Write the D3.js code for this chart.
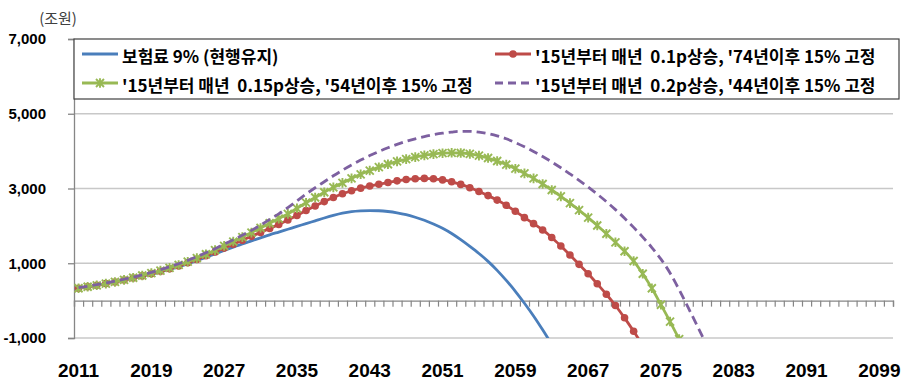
<!DOCTYPE html>
<html><head><meta charset="utf-8">
<script src="https://cdn.jsdelivr.net/npm/d3@7"></script>
<style>body{margin:0;background:#fff;} svg{display:block}</style>
</head><body><svg id="c" width="904" height="382"></svg>
<script>
// ---- data ----
const years = [2011,2012,2013,2014,2015,2016,2017,2018,2019,2020,2021,2022,2023,2024,2025,2026,2027,2028,2029,2030,
2031,2032,2033,2034,2035,2036,2037,2038,2039,2040,2041,2042,2043,2044,2045,2046,2047,2048,2049,2050,
2051,2052,2053,2054,2055,2056,2057,2058,2059,2060,2061,2062,2063,2064,2065,2066,2067,2068,2069,2070,
2071,2072,2073,2074,2075,2076,2077,2078,2079,2080,2081,2082,2083,2084,2085,2086,2087,2088,2089,2090,
2091,2092,2093,2094,2095,2096,2097,2098,2099,2100];
const xLabels = [2011,2019,2027,2035,2043,2051,2059,2067,2075,2083,2091,2099];
const yTicks = [-1000,1000,3000,5000,7000];
const unitLabel = "(조원)";
const seriesNames = ["보험료 9% (현행유지)","'15년부터 매년  0.1p상승, '74년이후 15% 고정","'15년부터 매년  0.15p상승, '54년이후 15% 고정","'15년부터 매년  0.2p상승, '44년이후 15% 고정"];
// 보험료 9% (2011~2063)
const base = [330,370,410,455,500,550,600,655,710,770,835,905,985,1070,1160,1250,1340,1430,1520,1600,
1680,1760,1835,1910,1985,2060,2135,2210,2280,2340,2380,2400,2410,2405,2385,2350,2300,2230,2150,2050,
1935,1795,1630,1450,1260,1050,810,540,250,-70,-410,-780,-1170];
// 0.1p (2011~2073)
const up01 = [330,370,410,455,500,552,605,662,722,785,853,928,1012,1103,1200,1300,1405,1510,1615,1720,
1825,1930,2040,2160,2280,2410,2530,2650,2760,2860,2940,3010,3065,3115,3160,3205,3240,3260,3270,3260,
3230,3180,3110,3020,2920,2810,2690,2550,2390,2220,2060,1890,1690,1460,1220,970,720,450,170,-130,
-460,-820,-1200];
// 0.15p (2011~2077)
const up015 = [330,370,410,455,500,555,612,672,736,804,876,955,1042,1137,1240,1350,1465,1580,1700,1820,
1945,2070,2195,2320,2470,2620,2760,2900,3030,3150,3270,3380,3480,3570,3650,3725,3785,3840,3885,3920,
3945,3955,3950,3925,3880,3815,3735,3640,3530,3405,3270,3120,2960,2790,2610,2420,2220,2010,1790,1560,
1320,1060,720,330,-110,-560,-1030];
// 0.2p (2011~2080)
const up02 = [345,385,428,473,520,572,628,690,757,828,905,988,1078,1175,1280,1390,1510,1630,1750,1880,
2020,2170,2320,2490,2670,2850,3020,3180,3340,3490,3630,3760,3880,3990,4090,4180,4260,4330,4390,4440,
4480,4510,4530,4530,4510,4470,4410,4330,4230,4115,3990,3855,3710,3555,3390,3220,3040,2850,2650,2435,
2205,1960,1700,1420,1110,740,290,-190,-680,-1180];

const seriesData = [base, up01, up015, up02];
const colors = ["#4A7EBB","#BE4B48","#98B954","#7D60A0"];

// ---- layout ----
const svg = d3.select("#c");
const L = 74, R = 893, T = 39, B = 338;
const x = d3.scaleBand().domain(years).range([L, R]).padding(0);
const xb = d3.scaleLinear().domain([0, years.length]).range([L, R]);
const y = d3.scaleLinear().domain([-1000, 7000]).range([B, T]);
const fmt = d3.formatLocale({decimal:".",thousands:",",grouping:[3],currency:["",""],minus:"-"}).format(",");
const cx = yr => x(yr) + x.bandwidth()/2;

// gridlines
svg.append("g").selectAll("line").data(yTicks.filter(v=>v!==7000)).join("line")
  .attr("x1", L).attr("x2", R).attr("y1", d=>y(d)).attr("y2", d=>y(d))
  .attr("stroke", "#c8c8c8").attr("stroke-width", 1.3);

// y axis
const ya = svg.append("g").attr("transform", `translate(${L},0)`)
  .call(d3.axisLeft(y).tickValues(yTicks).tickSize(6).tickPadding(22).tickFormat(fmt));
ya.select(".domain").attr("stroke", "#868686").attr("stroke-width", 1.3);
ya.selectAll(".tick line").attr("stroke", "#868686").attr("stroke-width", 1.3);
ya.selectAll("text").attr("font-family", "'Liberation Sans', Arial, sans-serif")
  .attr("font-weight", "bold").attr("font-size", 15).attr("fill", "#000");

// x axis (at zero) with category-boundary ticks
const xa = svg.append("g").attr("transform", `translate(0,${y(0)})`)
  .call(d3.axisBottom(xb).tickValues(d3.range(0, years.length + 1)).tickSize(6).tickFormat(""));
xa.select(".domain").attr("stroke", "#868686").attr("stroke-width", 1.3);
xa.selectAll(".tick line").attr("stroke", "#868686").attr("stroke-width", 1.2);

// x labels at bottom
const xl = svg.append("g").attr("transform", `translate(0,${B})`)
  .call(d3.axisBottom(x).tickValues(xLabels).tickSize(0).tickPadding(26));
xl.select(".domain").remove();
xl.selectAll("text").attr("font-family", "'Liberation Sans', Arial, sans-serif")
  .attr("font-weight", "bold").attr("font-size", 19).attr("fill", "#000");

// unit label
svg.append("text").attr("x", 58).attr("y", 17).attr("text-anchor", "middle")
  .attr("dominant-baseline", "central")
  .attr("font-family", "'Noto Sans CJK KR', sans-serif").attr("font-size", 15).attr("fill", "#404040")
  .text(unitLabel);

// clip
svg.append("clipPath").attr("id", "clip").append("rect")
  .attr("x", L).attr("y", T).attr("width", R - L).attr("height", B - T);

const plot = svg.append("g").attr("clip-path", "url(#clip)");
const line = d3.line().x((d,i)=>cx(years[i])).y(d=>y(d)).curve(d3.curveMonotoneX);

const starPath = s => `M${-s},${-s}L${s},${s}M${-s},${s}L${s},${-s}M0,${-s*1.2}L0,${s*1.2}`;

seriesData.forEach((vals, k) => {
  const p = plot.append("path").datum(vals).attr("d", line)
    .attr("fill", "none").attr("stroke", colors[k]).attr("stroke-width", 2.8)
    .attr("stroke-linejoin", "round");
  if (k === 3) p.attr("stroke-dasharray", "9,5");
  if (k === 1) {
    plot.append("g").selectAll("circle").data(vals).join("circle")
      .attr("cx", (d,i)=>cx(years[i])).attr("cy", d=>y(d)).attr("r", 3.8)
      .attr("fill", colors[k]);
  }
  if (k === 2) {
    plot.append("g").selectAll("path").data(vals).join("path")
      .attr("transform", (d,i)=>`translate(${cx(years[i])},${y(d)})`)
      .attr("d", starPath(4)).attr("stroke", colors[k]).attr("stroke-width", 1.9).attr("fill", "none");
  }
});

// legend
const lg = svg.append("g");
lg.append("rect").attr("x", L).attr("y", T).attr("width", 899 - L).attr("height", 99 - T)
  .attr("fill", "#fff").attr("stroke", "#404040").attr("stroke-width", 1.2);
const legPos = [[82, 122, 55], [495, 535, 55], [82, 122, 84], [495, 535, 84]];
seriesNames.forEach((name, k) => {
  const [lx, tx, ly] = legPos[k];
  const ln = lg.append("line").attr("x1", lx).attr("x2", lx + 36).attr("y1", ly - 1).attr("y2", ly - 1)
    .attr("stroke", colors[k]).attr("stroke-width", 2.8);
  if (k === 3) ln.attr("stroke-dasharray", "8,5");
  if (k === 1) lg.append("circle").attr("cx", lx + 18).attr("cy", ly - 1).attr("r", 3.8).attr("fill", colors[k]);
  if (k === 2) lg.append("path").attr("transform", `translate(${lx + 18},${ly - 1})`).attr("d", starPath(4))
    .attr("stroke", colors[k]).attr("stroke-width", 1.9).attr("fill", "none");
  lg.append("text").attr("x", tx).attr("y", ly).attr("dominant-baseline", "central")
    .attr("font-family", "'Noto Sans CJK KR', sans-serif").attr("font-weight", "bold")
    .attr("font-size", 17).attr("fill", "#000")
    .text(name.replace(/  /g, "\u00A0\u00A0"));
});
</script>
</body></html>
